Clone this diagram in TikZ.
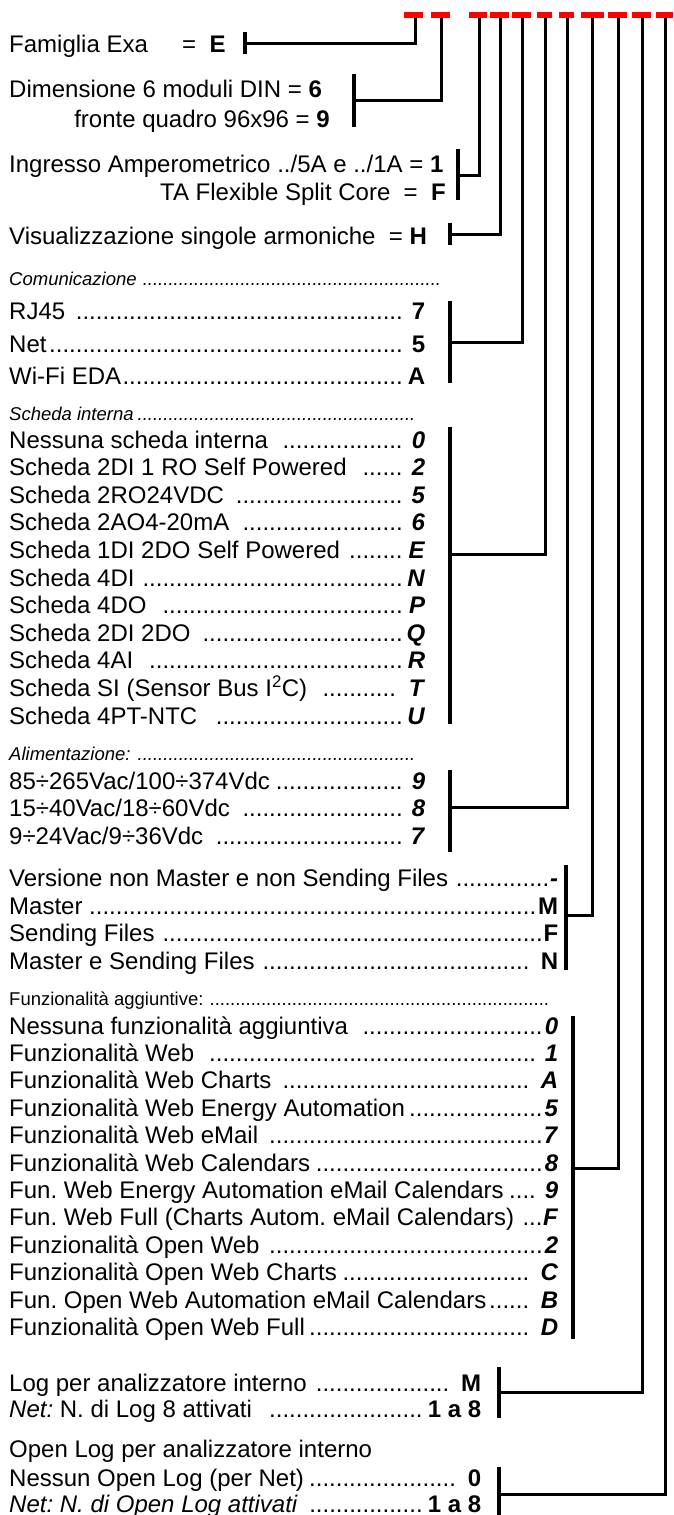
\documentclass[tikz,border=0pt]{standalone}
\usepackage{fontspec}
\setmainfont{Liberation Sans}
\frenchspacing
\newcommand\rowfont{\fontsize{24}{27.6}\selectfont}
\newcommand\headfont{\fontsize{18.5}{21}\selectfont}
\newcommand\dotrow[3]{\makebox[#1][l]{#2\leaders\hbox{.}\hfill#3}}
\newcommand\bi[1]{\textbf{\textit{#1}}}

\begin{document}
\begin{tikzpicture}[x=1pt, y=-1pt,
    row/.style={anchor=base west, inner sep=0pt, font=\rowfont},
    rowr/.style={anchor=base east, inner sep=0pt, font=\rowfont},
    head/.style={anchor=base west, inner sep=0pt, font=\headfont\itshape},
    brk/.style={line width=3.2pt},
    wire/.style={line width=3pt, line join=miter},
    reddash/.style={line width=6pt, red},
    ]
  \useasboundingbox (0,0) rectangle (673,1515);

  % codice prodotto
  \node[row] (fam) at (9,52) {\makebox[173pt][l]{Famiglia Exa}=\ \ \textbf{E}};
  \node[row] (dim) at (9,97) {Dimensione 6 moduli DIN = \textbf{6}};
  \node[rowr] (fro) at (330,127) {fronte quadro 96x96 = \textbf{9}};
  \node[row] (ing) at (9,172) {Ingresso Amperometrico ../5A e ../1A = \textbf{1}};
  \node[rowr] (ta) at (446,200) {TA Flexible Split Core\ \ =\ \ \textbf{F}};
  \node[row] (vis) at (9,244) {Visualizzazione singole armoniche\ \ = \textbf{H}};

  \node[head] (comh) at (9,285) {\dotrow{433pt}{Comunicazione\ }{}};
  \node[row] (rj) at (9,319) {\dotrow{416pt}{RJ45 }{ \textbf{7}}};
  \node[row] (net) at (9,352) {\dotrow{416pt}{Net}{ \textbf{5}}};
  \node[row] (wifi) at (9,384) {\dotrow{416pt}{Wi-Fi EDA}{\textbf{A}}};

  \node[head] (schh) at (9,420) {\dotrow{411pt}{Scheda interna}{}};
  \node[row] (sc0) at (9,448) {\dotrow{416pt}{Nessuna scheda interna\ \ }{ \bi{0}}};
  \node[row] (sc2) at (9,475.6) {\dotrow{416pt}{Scheda 2DI 1 RO Self Powered\ \ }{ \bi{2}}};
  \node[row] (sc5) at (9,503.2) {\dotrow{416pt}{Scheda 2RO24VDC }{ \bi{5}}};
  \node[row] (sc6) at (9,530.8) {\dotrow{416pt}{Scheda 2AO4-20mA }{ \bi{6}}};
  \node[row] (scE) at (9,558.4) {\dotrow{416pt}{Scheda 1DI 2DO Self Powered }{\bi{E}}};
  \node[row] (scN) at (9,586) {\dotrow{416pt}{Scheda 4DI }{\bi{N}}};
  \node[row] (scP) at (9,613.6) {\dotrow{416pt}{Scheda 4DO\ \ }{\bi{P}}};
  \node[row] (scQ) at (9,641.2) {\dotrow{416pt}{Scheda 2DI 2DO }{\bi{Q}}};
  \node[row] (scR) at (9,668.8) {\dotrow{416pt}{Scheda 4AI\ \ }{\bi{R}}};
  \node[row] (scT) at (9,696.4) {\dotrow{416pt}{Scheda SI (Sensor Bus I\textsuperscript{2}C)\ \ }{ \bi{T}}};
  \node[row] (scU) at (9,724) {\dotrow{416pt}{Scheda 4PT-NTC\ \ }{\bi{U}}};

  \node[head] (alih) at (9,760) {\dotrow{411pt}{Alimentazione: }{}};
  \node[row] (al9) at (9,789) {\dotrow{416pt}{85÷265Vac/100÷374Vdc}{ \bi{9}}};
  \node[row] (al8) at (9,816) {\dotrow{416pt}{15÷40Vac/18÷60Vdc }{ \bi{8}}};
  \node[row] (al7) at (9,844) {\dotrow{416pt}{9÷24Vac/9÷36Vdc }{ \bi{7}}};

  \node[row] (ver) at (9,886) {\dotrow{549pt}{Versione non Master e non Sending Files }{\bi{-}}};
  \node[row] (mas) at (9,914) {\dotrow{549pt}{Master }{\textbf{M}}};
  \node[row] (sen) at (9,941) {\dotrow{549pt}{Sending Files }{\textbf{F}}};
  \node[row] (mse) at (9,969) {\dotrow{549pt}{Master e Sending Files }{ \textbf{N}}};

  \node[row, font=\headfont] (funh) at (9,1005) {\dotrow{543pt}{Funzionalità aggiuntive: }{}};
  \node[row] (fu0) at (9,1034) {\dotrow{549pt}{Nessuna funzionalità aggiuntiva\ \ }{\bi{0}}};
  \node[row] (fu1) at (9,1061.4) {\dotrow{549pt}{Funzionalità Web\ \ }{ \bi{1}}};
  \node[row] (fuA) at (9,1088.8) {\dotrow{549pt}{Funzionalità Web Charts }{ \bi{A}}};
  \node[row] (fu5) at (9,1116.2) {\dotrow{549pt}{Funzionalità Web Energy Automation}{\bi{5}}};
  \node[row] (fu7) at (9,1143.6) {\dotrow{549pt}{Funzionalità Web eMail }{\bi{7}}};
  \node[row] (fu8) at (9,1171) {\dotrow{549pt}{Funzionalità Web Calendars}{\bi{8}}};
  \node[row] (fu9) at (9,1198.4) {\dotrow{549pt}{Fun. Web Energy Automation eMail Calendars}{ \bi{9}}};
  \node[row] (fuF) at (9,1225.8) {\dotrow{549pt}{Fun. Web Full (Charts Autom. eMail Calendars) }{\bi{F}}};
  \node[row] (fu2) at (9,1253.2) {\dotrow{549pt}{Funzionalità Open Web }{\bi{2}}};
  \node[row] (fuC) at (9,1280.6) {\dotrow{549pt}{Funzionalità Open Web Charts}{ \bi{C}}};
  \node[row] (fuB) at (9,1308) {\dotrow{549pt}{Fun. Open Web Automation eMail Calendars}{ \bi{B}}};
  \node[row] (fuD) at (9,1335.4) {\dotrow{549pt}{Funzionalità Open Web Full}{ \bi{D}}};

  \node[row] (lgM) at (9,1391) {\dotrow{472pt}{Log per analizzatore interno }{ \textbf{M}}};
  \node[row] (lgN) at (9,1417) {\dotrow{472pt}{\textit{Net:} N. di Log 8 attivati\ \ }{\textbf{1 a 8}}};
  \node[row] (olh) at (9,1457) {Open Log per analizzatore interno};
  \node[row] (ol0) at (9,1486) {\dotrow{472pt}{Nessun Open Log (per Net)}{ \textbf{0}}};
  \node[row] (olN) at (9,1512) {\dotrow{472pt}{\textit{Net: N. di Open Log attivati} }{\textbf{1 a 8}}};

  % tacche rosse e collegamenti
  \foreach \n/\xl/\xr/\xv in {1/404/423/415, 2/431/450/441, 3/469/487/479, 4/490/509/500,
      5/512/531/522, 6/537/552/545, 7/559/574/567, 8/581/604/592, 9/608/627/618,
      10/632/651/642, 11/656/673/665}
    \coordinate (d\n) at (\xv,15);

  \foreach \g/\bx/\yt/\yb/\ym/\n in {fam/245/32/54/43/1, dim/354/74/127/100/2,
      ing/458/149/200/175/3, vis/450/223/245/234/4, com/450/301/383/342/5,
      sch/450/427/724/554/6, ali/450/770/852/807/7, ver/566/865/970/915/8,
      fun/573/1016/1339/1168/9, log/499/1367/1418/1392/10, olg/499/1467/1515/1494/11} {
    \coordinate (\g-t) at (\bx,\yt);
    \coordinate (\g-b) at (\bx,\yb);
    \coordinate (\g-m) at (\bx,\ym);
    \draw[brk] (\g-t) -- (\g-b);
    \draw[wire] (\g-m) -| (d\n);
  }

  \foreach \n/\xl/\xr in {1/404/423, 2/431/450, 3/469/487, 4/490/509, 5/512/531,
      6/537/552, 7/559/574, 8/581/604, 9/608/627, 10/632/651, 11/656/673}
    \draw[reddash] (\xl,15) -- (\xr,15);
\end{tikzpicture}
\end{document}
